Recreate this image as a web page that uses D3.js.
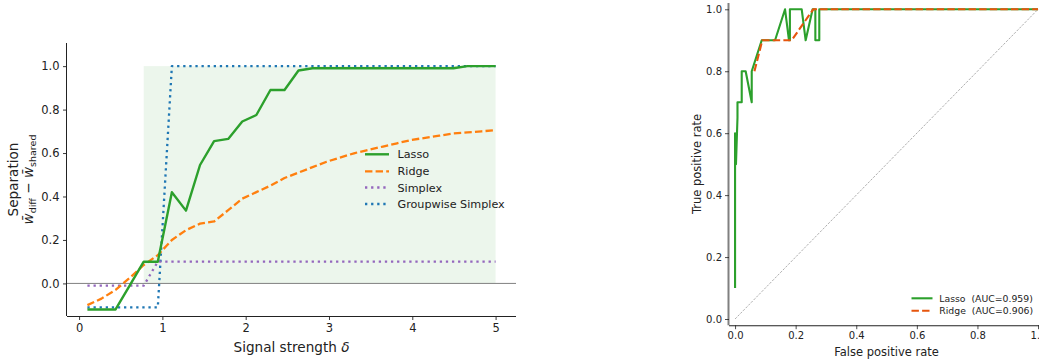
<!DOCTYPE html>
<html><head><meta charset="utf-8">
<script src="https://cdn.jsdelivr.net/npm/d3@7"></script>
<style>
body{margin:0;background:#fff;}
svg{display:block;font-family:"DejaVu Sans",sans-serif;}
text{fill:#222;}
</style></head>
<body><svg id="c" width="1039" height="360"></svg>
<script>
// ---------- Left panel data ----------
const delta = [0.1,0.269,0.438,0.607,0.776,0.945,1.114,1.283,1.452,1.621,1.79,1.959,2.128,2.297,2.466,2.634,2.803,2.972,3.141,3.31,3.479,3.648,3.817,3.986,4.155,4.324,4.493,4.662,4.831,5.0];
const lasso = [-0.12,-0.12,-0.12,-0.01,0.1,0.1,0.42,0.335,0.545,0.655,0.665,0.745,0.775,0.89,0.89,0.98,0.99,0.99,0.99,0.99,0.99,0.99,0.99,0.99,0.99,0.99,0.99,1.0,1.0,1.0];
const ridge = [-0.10,-0.07,-0.03,0.025,0.085,0.13,0.20,0.245,0.275,0.285,0.337,0.39,0.42,0.45,0.485,0.51,0.535,0.56,0.58,0.60,0.615,0.63,0.645,0.66,0.67,0.68,0.69,0.695,0.70,0.705];
const simplex = [-0.01,-0.01,-0.01,-0.01,-0.01,0.1,0.1,0.1,0.1,0.1,0.1,0.1,0.1,0.1,0.1,0.1,0.1,0.1,0.1,0.1,0.1,0.1,0.1,0.1,0.1,0.1,0.1,0.1,0.1,0.1];
const groupwise = [-0.11,-0.11,-0.11,-0.11,-0.11,-0.11,1.0,1.0,1.0,1.0,1.0,1.0,1.0,1.0,1.0,1.0,1.0,1.0,1.0,1.0,1.0,1.0,1.0,1.0,1.0,1.0,1.0,1.0,1.0,1.0];
const shadeX = [0.776, 5.0];
const shadeY = [0, 1];
const leftXTicks = [0,1,2,3,4,5];
const leftYTicks = [0.0,0.2,0.4,0.6,0.8,1.0];
const leftSeries = ["Lasso","Ridge","Simplex","Groupwise Simplex"];

// ---------- Right panel data ----------
const lassoFpr = [0,0,0.003,0.008,0.008,0.022,0.022,0.035,0.055,0.055,0.088,0.132,0.165,0.178,0.181,0.181,0.22,0.233,0.256,0.265,0.265,0.278,0.278,1.0];
const lassoTpr = [0.1,0.6,0.5,0.65,0.7,0.7,0.8,0.8,0.7,0.8,0.9,0.9,1.0,0.9,0.9,1.0,1.0,0.9,1.0,1.0,0.9,0.9,1.0,1.0];
const ridgeFpr = [0.064,0.09,0.187,0.258,1.0];
const ridgeTpr = [0.8,0.9,0.9,1.0,1.0];
const rocTicks = [0.0,0.2,0.4,0.6,0.8,1.0];
const rocLabels = ["Lasso  (AUC=0.959)","Ridge  (AUC=0.906)"];

const svg = d3.select("#c");
const fmt = d3.format(".1f");

// ================= LEFT =================
const L = {x0:67, x1:516, y0:316, y1:44.4};
const x = d3.scaleLinear().domain([-0.145,5.245]).range([L.x0,L.x1]);
const y = d3.scaleLinear().domain([-0.15,1.1]).range([L.y0,L.y1]);
const gL = svg.append("g");

gL.append("rect")
  .attr("x", x(shadeX[0])).attr("width", x(shadeX[1])-x(shadeX[0]))
  .attr("y", y(shadeY[1])).attr("height", y(shadeY[0])-y(shadeY[1]))
  .attr("fill","#2ca02c").attr("fill-opacity",0.09);

gL.append("line").attr("x1",L.x0).attr("x2",L.x1).attr("y1",y(0)).attr("y2",y(0))
  .attr("stroke","#808080").attr("stroke-width",1);

const styles = {
  "Lasso":{color:"#2ca02c",dash:null,w:2.4,data:lasso},
  "Ridge":{color:"#ff7f0e",dash:"7.4,3.2",w:2.3,data:ridge},
  "Simplex":{color:"#9467bd",dash:"2.3,3.8",w:2.3,data:simplex},
  "Groupwise Simplex":{color:"#1f77b4",dash:"2.3,3.8",w:2.3,data:groupwise}
};
const line = d3.line().x(d=>x(d[0])).y(d=>y(d[1]));
["Groupwise Simplex","Simplex","Ridge","Lasso"].forEach(k=>{
  const s = styles[k];
  gL.append("path").attr("d", line(delta.map((d,i)=>[d,s.data[i]])))
    .attr("fill","none").attr("stroke",s.color).attr("stroke-width",s.w)
    .attr("stroke-dasharray",s.dash).attr("stroke-linejoin","round");
});

const axL = gL.append("g").attr("transform",`translate(0,${L.y0})`)
  .call(d3.axisBottom(x).tickValues(leftXTicks).tickFormat(d3.format("d")).tickSizeOuter(0).tickSize(4).tickPadding(3.5));
const ayL = gL.append("g").attr("transform",`translate(${L.x0},0)`)
  .call(d3.axisLeft(y).tickValues(leftYTicks).tickFormat(fmt).tickSizeOuter(0).tickSize(4).tickPadding(3.5));
[axL,ayL].forEach(a=>{
  a.selectAll("text").attr("font-size",11.5).style("fill","#222");
  a.selectAll("line").attr("stroke","#222").attr("stroke-width",0.9);
  a.select(".domain").attr("stroke","#222").attr("stroke-width",1);
  a.attr("font-family",null);
});
axL.select(".domain").attr("d",`M${L.x0},0.5H${L.x1}`);
ayL.select(".domain").attr("d",`M-0.5,${L.y0}V43`);

const xl = gL.append("text").attr("x",(L.x0+L.x1)/2).attr("y",351.5).attr("text-anchor","middle").attr("font-size",13.6);
xl.append("tspan").text("Signal strength ");
xl.append("tspan").attr("font-style","italic").text("δ");

const yc = (316+43)/2;
gL.append("text").attr("transform",`translate(18,${yc}) rotate(-90)`).attr("text-anchor","middle")
  .attr("font-size",13.6).text("Separation");
const yl2 = gL.append("text").attr("transform",`translate(33,${yc}) rotate(-90)`).attr("text-anchor","middle").attr("font-size",13.6);
yl2.append("tspan").attr("font-style","italic").text("w\u0304");
yl2.append("tspan").attr("font-size",9.5).attr("dy",3).text("diff");
yl2.append("tspan").attr("dy",-3).text(" \u2212 ");
yl2.append("tspan").attr("font-style","italic").text("w\u0304");
yl2.append("tspan").attr("font-size",9.5).attr("dy",3).text("shared");

const legY = [154.3,171.3,187.5,204];
leftSeries.forEach((k,i)=>{
  const s = styles[k];
  gL.append("line").attr("x1",365).attr("x2",389).attr("y1",legY[i]).attr("y2",legY[i])
    .attr("stroke",s.color).attr("stroke-width",s.w).attr("stroke-dasharray",s.dash);
  gL.append("text").attr("x",397.5).attr("y",legY[i]+4).attr("font-size",11.2).text(k);
});

// ================= RIGHT =================
const xr = d3.scaleLinear().domain([-0.02,1.02]).range([729,1044.1]);
const yr = d3.scaleLinear().domain([-0.02,1.02]).range([325.2,3.1]);
const gR = svg.append("g");

gR.append("line").attr("x1",xr(0)).attr("y1",yr(0)).attr("x2",xr(1)).attr("y2",yr(1))
  .attr("stroke","#999").attr("stroke-width",0.8).attr("stroke-dasharray","2.4,1.4");

const rline = d3.line().x(d=>xr(d[0])).y(d=>yr(d[1]));
gR.append("path").attr("d", rline(lassoFpr.map((d,i)=>[d,lassoTpr[i]])))
  .attr("fill","none").attr("stroke","#2ca02c").attr("stroke-width",2.1).attr("stroke-linejoin","round");
gR.append("path").attr("d", rline(ridgeFpr.map((d,i)=>[d,ridgeTpr[i]])))
  .attr("fill","none").attr("stroke","#e6550d").attr("stroke-width",2.1).attr("stroke-dasharray","7.4,3.2");

const axR = gR.append("g").attr("transform","translate(0,325.2)")
  .call(d3.axisBottom(xr).tickValues(rocTicks).tickFormat(fmt).tickSizeOuter(0).tickSize(4).tickPadding(3));
const ayR = gR.append("g").attr("transform","translate(729,0)")
  .call(d3.axisLeft(yr).tickValues(rocTicks).tickFormat(fmt).tickSizeOuter(0).tickSize(4).tickPadding(3));
[axR,ayR].forEach(a=>{
  a.selectAll("text").attr("font-size",10).style("fill","#222");
  a.selectAll("line").attr("stroke","#222").attr("stroke-width",0.8);
  a.attr("font-family",null);
});
axR.select(".domain").attr("stroke","#222").attr("stroke-width",1.1).attr("d","M729,0.5H1044");
ayR.select(".domain").attr("stroke","#808080").attr("stroke-width",2).attr("d","M-0.5,325.2V3");

gR.append("text").attr("x",886.5).attr("y",355.5).attr("text-anchor","middle").attr("font-size",11.5).text("False positive rate");
gR.append("text").attr("transform",`translate(701,164) rotate(-90)`).attr("text-anchor","middle").attr("font-size",11.5).text("True positive rate");

const rocLeg = [{c:"#2ca02c",d:null},{c:"#e6550d",d:"7.4,3.2"}];
const rLegY = [298.3,310.7];
rocLabels.forEach((t,i)=>{
  gR.append("line").attr("x1",911.5).attr("x2",932.5).attr("y1",rLegY[i]).attr("y2",rLegY[i])
    .attr("stroke",rocLeg[i].c).attr("stroke-width",2.1).attr("stroke-dasharray",rocLeg[i].d);
  gR.append("text").attr("x",939.3).attr("y",rLegY[i]+3.3).attr("font-size",9.3)
    .style("white-space","pre").text(t);
});
</script></body></html>
